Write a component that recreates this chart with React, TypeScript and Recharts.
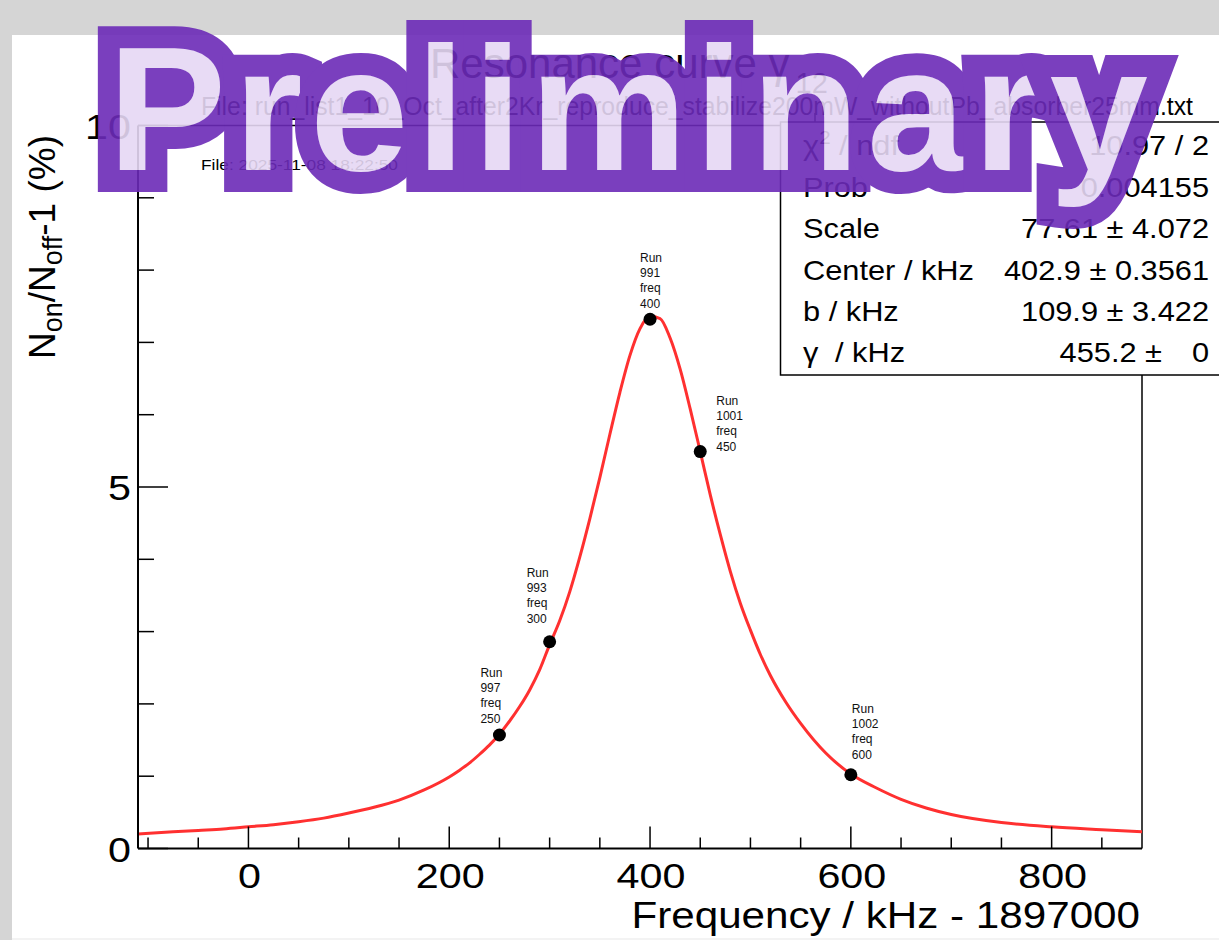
import { ComposedChart, Line, Scatter, XAxis, YAxis, ReferenceLine } from "recharts"

const FONT = "'Liberation Sans', Arial, Helvetica, sans-serif"

// fit curve
const FIT_FREQ = [-110, -75, -50, -25, 0, 25, 50, 75, 100, 125, 150, 175, 200, 210, 220, 230, 240, 250, 260, 270, 280, 290, 300, 310, 320, 330, 340, 350, 360, 370, 380, 390, 400, 410, 420, 430, 440, 450, 460, 470, 480, 490, 500, 510, 520, 535, 550, 575, 600, 625, 650, 675, 700, 750, 800, 850, 890]
const FIT_VALUE = [0.2, 0.23, 0.25, 0.27, 0.3, 0.33, 0.37, 0.42, 0.49, 0.57, 0.67, 0.81, 0.99, 1.08, 1.18, 1.3, 1.43, 1.58, 1.76, 1.96, 2.19, 2.47, 2.82, 3.15, 3.55, 4.03, 4.56, 5.13, 5.73, 6.31, 6.82, 7.19, 7.36, 7.33, 7.06, 6.63, 6.08, 5.49, 4.89, 4.34, 3.83, 3.39, 3.02, 2.68, 2.39, 2.03, 1.73, 1.32, 1.03, 0.84, 0.68, 0.56, 0.47, 0.36, 0.3, 0.26, 0.23]

// measured runs
const RUNS = [997, 993, 991, 1001, 1002]
const RUN_FREQ = [250, 300, 400, 450, 600]
const RUN_VALUE = [1.57, 2.86, 7.32, 5.49, 1.02]

const X_TICKS = [-100, -50, 0, 50, 100, 150, 200, 250, 300, 350, 400, 450, 500, 550, 600, 650, 700, 750, 800, 850]
const Y_TICKS = [0, 1, 2, 3, 4, 5, 6, 7, 8, 9, 10]

const STAT_LABELS = ["Scale", "Center / kHz", "b / kHz"]
const STAT_VALUES = ["77.61 ± 4.072", "402.9 ± 0.3561", "109.9 ± 3.422"]

// where each run's text sits relative to its marker (px)
const LABEL_OFFSET: [number, number][] = [[-19, -58], [-23, -65], [-10, -57], [16, -47], [1, -62]]

const fitData = FIT_FREQ.map((x, i) => ({ x, fit: FIT_VALUE[i] }))
const runData = RUNS.map((run, i) => ({ run, x: RUN_FREQ[i], y: RUN_VALUE[i] }))

function SText({ x, y, sx = 1, anchor = "start", size, children, weight }: any) {
  return (
    <text
      transform={`translate(${x},${y}) scale(${sx},1)`}
      textAnchor={anchor}
      fontSize={size}
      fontFamily={FONT}
      fontWeight={weight}
      fill="#000"
    >
      {children}
    </text>
  )
}

function XTick(props: any) {
  const { x, y, payload } = props
  const v = payload.value
  const major = v % 200 === 0
  return (
    <g>
      <line x1={x} x2={x} y1={y} y2={y - (major ? 22 : 11)} stroke="#000" strokeWidth={1.5} />
      {major && <SText x={x + 1} y={y + 39.5} sx={1.18} anchor="middle" size={35}>{v}</SText>}
    </g>
  )
}

function YTick(props: any) {
  const { x, y, payload } = props
  const v = payload.value
  const major = v % 5 === 0
  return (
    <g>
      <line x1={x} x2={x + (major ? 30 : 16)} y1={y} y2={y} stroke="#000" strokeWidth={1.5} />
      {major && <SText x={x - 7} y={y + 13} sx={1.18} anchor="end" size={35}>{v}</SText>}
    </g>
  )
}

function RunMarker(props: any) {
  const { cx, cy, payload } = props
  const i = RUNS.indexOf(payload.run)
  const [dx, dy] = LABEL_OFFSET[i]
  const lines = ["Run", String(payload.run), "freq", String(payload.x)]
  const gaps = [0, 15, 30, 46]
  return (
    <g>
      <circle cx={cx} cy={cy} r={6.5} fill="#000" />
      {lines.map((t, k) => (
        <text key={k} x={cx + dx} y={cy + dy + gaps[k]} fontSize={12} fontFamily={FONT} fill="#111">
          {t}
        </text>
      ))}
    </g>
  )
}

export default function App() {
  return (
    <div style={{ position: "relative", width: 1219, height: 940, background: "#d5d5d5", overflow: "hidden" }}>
      <style>{`body{margin:0}`}</style>
      <div style={{ position: "absolute", left: 12, top: 35, width: 1207, height: 903, background: "#fff" }} />
      <div style={{ position: "absolute", left: 12, top: 938, width: 1207, height: 2, background: "#f3f3f3" }} />
      <div style={{ position: "absolute", left: 0, top: 0 }}>
        <ComposedChart width={1219} height={940} data={fitData} margin={{ top: 125.5, right: 77, bottom: 0, left: 0 }}>
          <XAxis
            dataKey="x"
            type="number"
            domain={[-110, 890]}
            allowDataOverflow
            ticks={X_TICKS}
            interval={0}
            height={91.5}
            tickSize={0}
            tickMargin={0}
            tickLine={false}
            axisLine={{ stroke: "#000", strokeWidth: 2 }}
            tick={<XTick />}
          />
          <YAxis
            type="number"
            domain={[0, 10]}
            allowDataOverflow
            ticks={Y_TICKS}
            interval={0}
            width={138}
            tickSize={0}
            tickMargin={0}
            tickLine={false}
            axisLine={{ stroke: "#000", strokeWidth: 2 }}
            tick={<YTick />}
          />
          <ReferenceLine y={10} stroke="#000" strokeWidth={1.5} />
          <ReferenceLine x={890} stroke="#000" strokeWidth={1.5} />
          <Line type="monotone" dataKey="fit" stroke="#ff3030" strokeWidth={3} dot={false} isAnimationActive={false} />
          <Scatter data={runData} dataKey="y" shape={<RunMarker />} isAnimationActive={false} />
        </ComposedChart>
      </div>
      <svg width={1219} height={940} style={{ position: "absolute", left: 0, top: 0, pointerEvents: "none" }}>
        {/* title block */}
        <text x={430} y={78} fontSize={42} fontFamily={FONT} fill="#000">
          Resonance curve γ
          <tspan dx={6} dy={15} fontSize={29}>12</tspan>
        </text>
        <text
          x={201}
          y={115}
          fontSize={25}
          fontFamily={FONT}
          fill="#000"
          textLength={992}
          lengthAdjust="spacingAndGlyphs"
        >
          File: run_list1_10_Oct_after2Kr_reproduce_stabilize200mW_withoutPb_absorber25mm.txt
        </text>
        <text x={201} y={170} fontSize={15} fontFamily={FONT} fill="#000" textLength={197} lengthAdjust="spacingAndGlyphs">
          File: 2025-11-08 18:22:50
        </text>
        <line x1={815} x2={815} y1={113} y2={172} stroke="#000" strokeWidth={1.5} />

        {/* stats box */}
        <rect x={780.5} y={122} width={470} height={253} fill="#fff" stroke="#000" strokeWidth={1.5} />
        <text transform="translate(803,155) scale(1.14,1)" fontSize={27} fontFamily={FONT} fill="#000">
          χ<tspan dy={-11} fontSize={18}>2</tspan>
          <tspan dy={11}> / ndf</tspan>
        </text>
        <SText x={1209} y={155} sx={1.14} anchor="end" size={27}>10.97 / 2</SText>
        <SText x={803} y={197} sx={1.14} size={27}>Prob</SText>
        <SText x={1209} y={197} sx={1.14} anchor="end" size={27}>0.004155</SText>
        {STAT_LABELS.map((l, i) => (
          <g key={l}>
            <SText x={803} y={238 + i * 41.5} sx={1.14} size={27}>{l}</SText>
            <SText x={1209} y={238 + i * 41.5} sx={1.14} anchor="end" size={27}>{STAT_VALUES[i]}</SText>
          </g>
        ))}
        <SText x={803} y={362} sx={1.14} size={27}>γ</SText>
        <SText x={835} y={362} sx={1.14} size={27}>/ kHz</SText>
        <SText x={1162} y={362} sx={1.14} anchor="end" size={27}>455.2 ±</SText>
        <SText x={1209} y={362} sx={1.14} anchor="end" size={27}>0</SText>

        {/* axis titles */}
        <SText x={1140} y={928} sx={1.14} anchor="end" size={37}>Frequency / kHz - 1897000</SText>
        <text transform="translate(55,247) rotate(-90)" textAnchor="middle" fontSize={37} fontFamily={FONT} fill="#000">
          N<tspan dy={7} fontSize={27}>on</tspan>
          <tspan dy={-7}>/N</tspan>
          <tspan dy={7} fontSize={27}>off</tspan>
          <tspan dy={-7}>-1 (%)</tspan>
        </text>

        {/* watermark */}
        <text
          x={108}
          y={170}
          fontSize={177}
          fontWeight="bold"
          fontFamily={FONT}
          textLength={1040}
          lengthAdjust="spacing"
          fill="#e6d8f4"
          stroke="#6c2bb8"
          strokeWidth={44}
          strokeLinejoin="miter"
          strokeMiterlimit={2}
          paintOrder="stroke"
          opacity={0.9}
        >
          Preliminary
        </text>
      </svg>
    </div>
  )
}
